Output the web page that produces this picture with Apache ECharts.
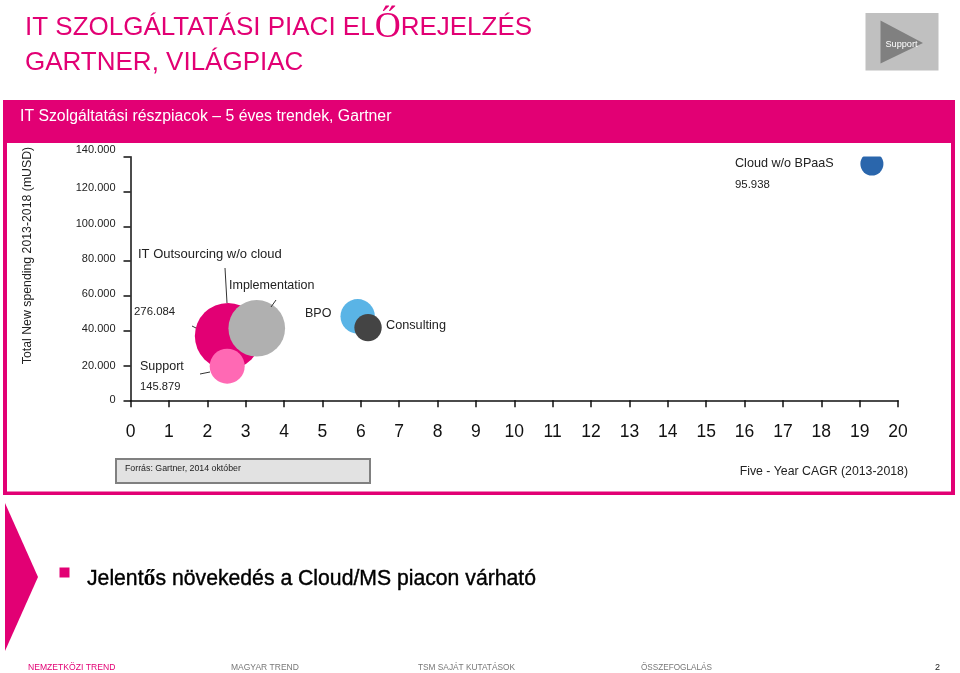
<!DOCTYPE html>
<html>
<head>
<meta charset="utf-8">
<style>html,body{margin:0;padding:0;background:#fff}#chart{width:960px;height:673px}</style>
<script src="https://cdn.jsdelivr.net/npm/echarts@6/dist/echarts.min.js"></script>
</head>
<body>
<div id="chart"></div>
<script>
var names = ['IT Outsourcing w/o cloud', 'Implementation', 'Support', 'BPO', 'Consulting', 'Cloud w/o BPaaS'];
var cagr = [2.54, 3.29, 2.52, 5.92, 6.19, 19.32];
var newSpending = [36950, 41380, 19600, 48270, 41780, 135800];
var totals = [276084, 236000, 145879, 143300, 114000, 95938];
var colors = ['#e20074', '#b0b0b0', '#ff69b4', '#5ab4e6', '#444444', '#2a66ac'];
var xTickLabels = ['0','1','2','3','4','5','6','7','8','9','10','11','12','13','14','15','16','17','18','19','20'];
var yTickLabels = ['0','20.000','40.000','60.000','80.000','100.000','120.000','140.000'];

var magenta = '#e20074';
var font = '"Liberation Sans", Arial, sans-serif';

var points = [];
for (var i = 0; i < names.length; i++) {
    points.push({
        name: names[i],
        value: [cagr[i], newSpending[i], totals[i]],
        itemStyle: { color: colors[i], opacity: 1 }
    });
}

// the y labels in the slide sit a little above their ticks, more so towards the top
var labelLift = [0, 0, 1.5, 1.5, 2.5, 2.5, 3.5, 6.5];
var yLabelRich = {};
labelLift.forEach(function (lift, idx) {
    yLabelRich['t' + idx] = { padding: [0, 0, lift * 2, 0], fontSize: 11, color: '#222' };
});

function txt(x, y, text, size, color, extra) {
    var style = { x: x, y: y + 1, text: text, fill: color || '#222', font: size + 'px ' + font, textVerticalAlign: 'middle' };
    for (var k in extra) style[k] = extra[k];
    return { type: 'text', z: 10, style: style };
}
function line(x1, y1, x2, y2) {
    return { type: 'line', z: 10, shape: { x1: x1, y1: y1, x2: x2, y2: y2 }, style: { stroke: '#333', lineWidth: 1 } };
}
function box(x, y, w, h, fill, stroke, lw, z) {
    return { type: 'rect', z: z === undefined ? -10 : z, shape: { x: x, y: y, width: w, height: h }, style: { fill: fill, stroke: stroke || null, lineWidth: lw || 0 } };
}
function tri(pts, fill) {
    return { type: 'polygon', z: -5, shape: { points: pts }, style: { fill: fill } };
}

var graphics = [
    // frame
    box(3, 100, 952, 395, magenta, null, 0, -20),
    box(7, 143, 944, 348.5, '#fff', null, 0, -15),
    // the cloud bubble is cut off at the top of the plot
    box(855, 143, 35, 13.5, '#fff', null, 0, 20),
    // header
    { type: 'text', z: 10, style: {
        x: 25, y: 28, text: '{a|IT SZOLGÁLTATÁSI PIACI EL}{b|Ő}{a|REJELZÉS}', fill: magenta, textVerticalAlign: 'middle',
        rich: { a: { font: '26px ' + font, fill: magenta }, b: { font: '36px "Liberation Serif", serif', fill: magenta } }
    } },
    txt(25, 62, 'GARTNER, VILÁGPIAC', 26, magenta),
    txt(20, 116, 'IT Szolgáltatási részpiacok – 5 éves trendek, Gartner', 15.8, '#fff'),
    // support icon
    box(865.5, 13, 73, 57.5, '#c0c0c0'),
    tri([[880.5, 20.5], [923, 43], [880.5, 63.5]], '#808080'),
    txt(901.5, 43, 'Support', 9.2, '#fff', { textAlign: 'center' }),
    // bubble labels
    txt(138, 253.5, 'IT Outsourcing w/o cloud', 13),
    line(225, 268, 227, 303),
    txt(229, 285, 'Implementation', 12.5),
    line(276, 300, 271, 307),
    txt(134, 311, '276.084', 11.4),
    line(192, 326, 196, 328),
    txt(305, 313, 'BPO', 12.5),
    txt(386, 324.5, 'Consulting', 12.7),
    txt(140, 365.5, 'Support', 12.5),
    line(200, 374, 210, 372),
    txt(140, 386, '145.879', 11.2),
    txt(735, 163, 'Cloud w/o BPaaS', 12.6),
    txt(735, 184, '95.938', 11.4),
    // source box
    box(116, 459, 254, 24, '#e2e2e2', '#808080', 2),
    txt(125, 467.5, 'Forrás: Gartner, 2014 október', 8.8),
    // message
    tri([[5, 503], [38, 577], [5, 651]], magenta),
    box(59.5, 567.5, 10, 10, magenta),
    { type: 'text', z: 10, style: {
        x: 87, y: 579, text: '{a|Jelent}{b|ő}{a|s növekedés a Cloud/MS piacon várható}', fill: '#000', textVerticalAlign: 'middle',
        rich: {
            a: { font: '21.2px ' + font, fill: '#000', stroke: '#000', lineWidth: 0.4 },
            b: { font: 'bold 24px "Liberation Serif", serif', fill: '#000' }
        }
    } },
    // footer
    txt(28, 667, 'NEMZETKÖZI TREND', 8.6, magenta),
    txt(231, 667, 'MAGYAR TREND', 8.5, '#777'),
    txt(418, 667, 'TSM SAJÁT KUTATÁSOK', 8.3, '#777'),
    txt(641, 667, 'ÖSSZEFOGLALÁS', 8.2, '#777'),
    txt(935, 667, '2', 9, '#222')
];

var option = {
    animation: false,
    backgroundColor: '#fff',
    textStyle: { fontFamily: font },
    grid: { left: 130.5, right: 62, top: 156.7, bottom: 272.7, containLabel: false },
    xAxis: {
        type: 'value',
        min: 0,
        max: 20,
        interval: 1,
        name: 'Five - Year CAGR (2013-2018)',
        nameLocation: 'end',
        nameGap: 10,
        nameTextStyle: { color: '#222', fontSize: 12.3, align: 'right', verticalAlign: 'top', padding: [65, 0, 0, 0] },
        axisLine: { lineStyle: { color: '#111', width: 1.5 } },
        axisTick: { length: 7, lineStyle: { color: '#111', width: 1.5 } },
        axisLabel: {
            margin: 23,
            color: '#111',
            fontSize: 17.5,
            hideOverlap: false,
            formatter: function (v) { return xTickLabels[v]; }
        },
        splitLine: { show: false }
    },
    yAxis: {
        type: 'value',
        min: 0,
        max: 140000,
        interval: 20000,
        name: 'Total New spending 2013-2018 (mUSD)',
        nameLocation: 'middle',
        nameGap: 97,
        nameTextStyle: { color: '#222', fontSize: 12.3, padding: [0, 0, 0, 46] },
        axisLine: { onZero: false, lineStyle: { color: '#111', width: 1.5 } },
        axisTick: { length: 7, lineStyle: { color: '#111', width: 1.5 } },
        axisLabel: {
            margin: 15,
            color: '#222',
            fontSize: 11,
            rich: yLabelRich,
            formatter: function (v) {
                var idx = v / 20000;
                return '{t' + idx + '|' + yTickLabels[idx] + '}';
            }
        },
        splitLine: { show: false }
    },
    series: [
        {
            type: 'scatter',
            z: 5,
            symbolSize: function (val) { return val[2] * 0.00024; },
            data: points
        }
    ],
    graphic: graphics
};

var myChart = echarts.init(document.getElementById('chart'));
myChart.setOption(option);
</script>
</body>
</html>
